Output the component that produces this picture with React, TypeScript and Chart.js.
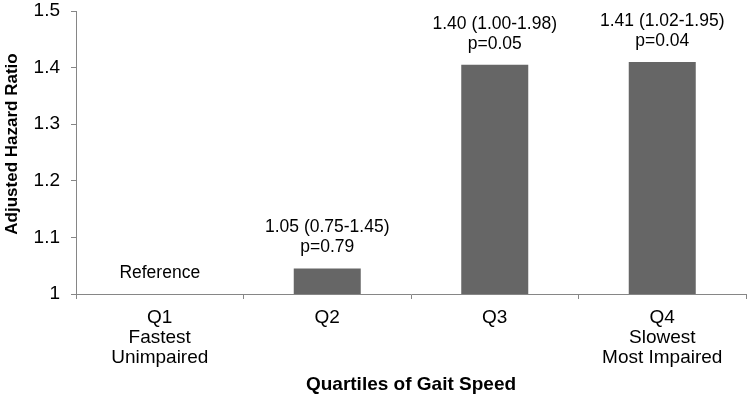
import React, { useEffect, useRef } from "react";
import { Chart, registerables } from "chart.js";

Chart.register(...registerables);

const categories: string[][] = [
  ["Q1", "Fastest", "Unimpaired"],
  ["Q2"],
  ["Q3"],
  ["Q4", "Slowest", "Most Impaired"],
];
const hazardRatios = [1, 1.045, 1.405, 1.41];
const estimateLabels = ["", "1.05 (0.75-1.45)", "1.40 (1.00-1.98)", "1.41 (1.02-1.95)"];
const pValueLabels = ["Reference", "p=0.79", "p=0.05", "p=0.04"];
const yTicks = [1, 1.1, 1.2, 1.3, 1.4, 1.5];
const yTickLabels = ["1", "1.1", "1.2", "1.3", "1.4", "1.5"];
const yTitle = "Adjusted Hazard Ratio";
const xTitle = "Quartiles of Gait Speed";

const FONT = "'Liberation Sans', Arial, sans-serif";
const AXIS_COLOR = "#868686";
const TEXT_COLOR = "#000000";
const BAR_COLOR = "#666666";

const annotationPlugin = {
  id: "barAnnotations",
  afterDatasetsDraw(chart: any) {
    const ctx = chart.ctx;
    const meta = chart.getDatasetMeta(0);
    ctx.save();
    ctx.fillStyle = TEXT_COLOR;
    ctx.textAlign = "center";
    ctx.textBaseline = "middle";
    ctx.font = `17.5px ${FONT}`;
    meta.data.forEach((bar: any, i: number) => {
      const x = bar.x;
      const y = bar.y;
      if (pValueLabels[i]) ctx.fillText(pValueLabels[i], x, y - 21);
      if (estimateLabels[i]) ctx.fillText(estimateLabels[i], x, y - 41);
    });
    ctx.restore();
  },
};

const yTitlePlugin = {
  id: "yTitle",
  afterDraw(chart: any) {
    const ctx = chart.ctx;
    const area = chart.chartArea;
    ctx.save();
    ctx.translate(12, area.top + 133);
    ctx.rotate(-Math.PI / 2);
    ctx.fillStyle = TEXT_COLOR;
    ctx.font = `bold 17px ${FONT}`;
    ctx.textAlign = "center";
    ctx.textBaseline = "middle";
    ctx.fillText(yTitle, 0, 0);
    ctx.restore();
  },
};

export default function App() {
  const canvasRef = useRef<HTMLCanvasElement | null>(null);

  useEffect(() => {
    if (!canvasRef.current) return;
    const chart = new Chart(canvasRef.current, {
      type: "bar",
      data: {
        labels: categories,
        datasets: [
          {
            data: hazardRatios,
            backgroundColor: BAR_COLOR,
            borderWidth: 0,
            barPercentage: 0.4,
            categoryPercentage: 1,
          },
        ],
      },
      options: {
        animation: false,
        responsive: true,
        maintainAspectRatio: false,
        layout: { padding: { top: 11, right: 4, bottom: 0, left: 0 } },
        plugins: {
          legend: { display: false },
          tooltip: { enabled: false },
        },
        scales: {
          x: {
            grid: {
              display: true,
              drawOnChartArea: false,
              drawTicks: true,
              tickLength: 5,
              color: AXIS_COLOR,
              offset: true,
            },
            border: { display: true, color: AXIS_COLOR, width: 1 },
            ticks: {
              color: TEXT_COLOR,
              font: { family: FONT, size: 19, lineHeight: 1.05 },
              padding: 9,
              maxRotation: 0,
              autoSkip: false,
            },
            title: {
              display: true,
              text: xTitle,
              color: TEXT_COLOR,
              font: { family: FONT, size: 19, weight: "bold" },
              padding: { top: 0, bottom: 6 },
            },
            afterFit(scale: any) {
              scale.height = 108;
              scale.paddingLeft = 0;
              scale.paddingRight = 0;
            },
          },
          y: {
            min: 1,
            max: 1.5,
            grid: {
              display: true,
              drawOnChartArea: false,
              drawTicks: true,
              tickLength: 5,
              color: AXIS_COLOR,
            },
            border: { display: true, color: AXIS_COLOR, width: 1 },
            ticks: {
              color: TEXT_COLOR,
              font: { family: FONT, size: 19 },
              padding: 11,
              callback: (_v: any, i: number) => yTickLabels[i],
            },
            afterBuildTicks(scale: any) {
              scale.ticks = yTicks.map((v) => ({ value: v }));
            },
            afterFit(scale: any) {
              scale.width = 76;
              scale.paddingTop = 0;
              scale.paddingBottom = 0;
            },
          },
        },
      },
      plugins: [annotationPlugin, yTitlePlugin],
    } as any);
    return () => chart.destroy();
  }, []);

  return (
    <div
      style={{
        position: "absolute",
        left: 0,
        top: 0,
        width: 750,
        height: 402,
        background: "#ffffff",
      }}
    >
      <canvas ref={canvasRef} />
    </div>
  );
}
